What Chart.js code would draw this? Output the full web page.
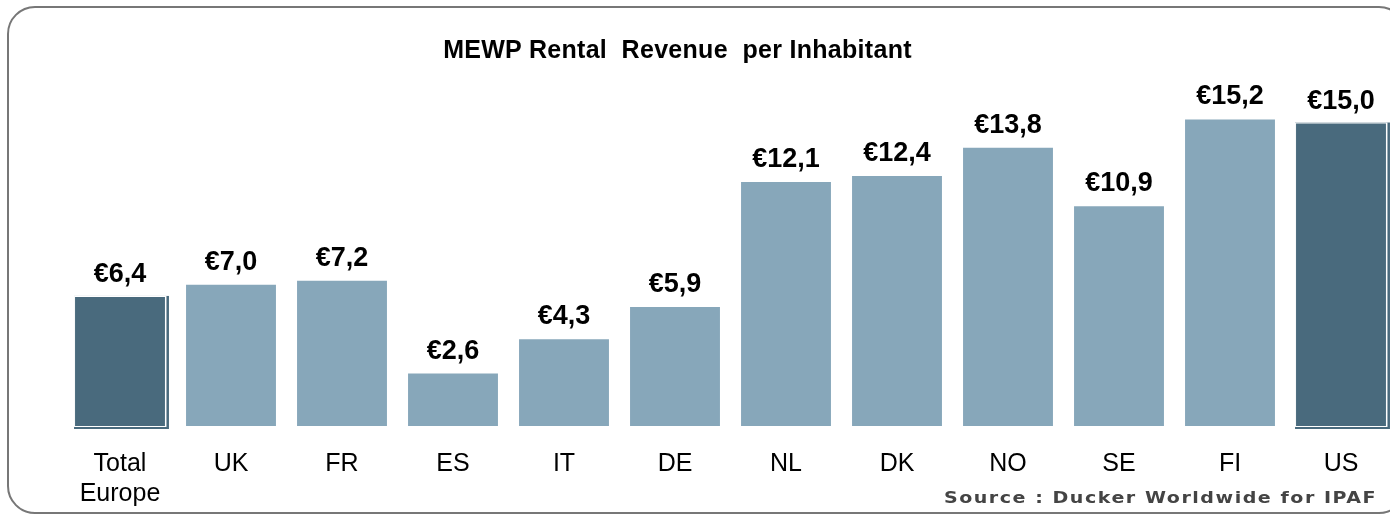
<!DOCTYPE html>
<html>
<head>
<meta charset="utf-8">
<script src="https://cdn.jsdelivr.net/npm/chart.js@4.4.1/dist/chart.umd.min.js"></script>
<style>
  html, body { margin: 0; padding: 0; width: 1390px; height: 514px; overflow: hidden; background: #fff; }
  #frame { position: absolute; left: 7px; top: 6px; width: 1400px; height: 508px; border: 2px solid #777; border-radius: 28px; box-sizing: border-box; }
  #wrap { position: absolute; left: 0; top: 3px; width: 1420px; height: 529px; }
  #title { position: absolute; left: 0; width: 1355px; top: 35px; text-align: center; font: bold 25px "Liberation Sans", Arial, sans-serif; letter-spacing: 0.3px; color: #000; white-space: pre; }
  #source { position: absolute; right: 13px; top: 489px; font: bold 15px "DejaVu Sans", "Liberation Sans", sans-serif; color: #444; letter-spacing: 1.2px; white-space: pre; transform: scaleX(1.27); transform-origin: right center; filter: blur(0.4px); }
</style>
</head>
<body>
<div id="frame"></div>
<div id="wrap"><canvas id="c" width="1420" height="529"></canvas></div>
<div id="title">MEWP Rental  Revenue  per Inhabitant</div>
<div id="source">Source : Ducker Worldwide for IPAF</div>
<script>
const categories = [["Total", "Europe"], "UK", "FR", "ES", "IT", "DE", "NL", "DK", "NO", "SE", "FI", "US"];
const values = [6.4, 7.0, 7.2, 2.6, 4.3, 5.9, 12.1, 12.4, 13.8, 10.9, 15.2, 15.0];
const highlighted = [true, false, false, false, false, false, false, false, false, false, false, true];

const LIGHT = "#87a7ba";
const DARK = "#496a7d";

const shadowPlugin = {
  id: "shadow",
  beforeDatasetsDraw(chart) {
    const ctx = chart.ctx;
    const meta = chart.getDatasetMeta(0);
    meta.data.forEach((bar, i) => {
      if (!highlighted[i]) return;
      const l = bar.x - bar.width / 2, r = bar.x + bar.width / 2;
      const t = bar.y, b = bar.base;
      ctx.save();
      ctx.fillStyle = DARK;
      ctx.fillRect(l - 1, t - 1, (r + 4) - (l - 1), (b + 3) - (t - 1));
      ctx.fillStyle = "#fff";
      ctx.fillRect(l - 1, t - 1, (r + 1.5) - (l - 1), (b + 1) - (t - 1));
      ctx.restore();
    });
  }
};

const labelPlugin = {
  id: "valueLabels",
  afterDatasetsDraw(chart) {
    const ctx = chart.ctx;
    const meta = chart.getDatasetMeta(0);
    ctx.save();
    ctx.font = 'bold 27px "Liberation Sans", Arial, sans-serif';
    ctx.fillStyle = "#000";
    ctx.textAlign = "center";
    ctx.textBaseline = "alphabetic";
    meta.data.forEach((bar, i) => {
      const txt = "€" + values[i].toFixed(1).replace(".", ",");
      ctx.fillText(txt, bar.x, bar.y - 15);
    });
    ctx.restore();
  }
};

new Chart(document.getElementById("c"), {
  type: "bar",
  data: {
    labels: categories,
    datasets: [{
      data: values,
      backgroundColor: highlighted.map(h => h ? DARK : LIGHT),
      borderWidth: 0,
      barPercentage: 0.81,
      categoryPercentage: 1.0
    }]
  },
  options: {
    responsive: false,
    animation: false,
    events: [],
    layout: { padding: { left: 64.5, right: 23.5, top: 57, bottom: 0 } },
    plugins: { legend: { display: false }, tooltip: { enabled: false }, title: { display: false } },
    scales: {
      x: {
        grid: { display: false, drawTicks: false },
        border: { display: false },
        ticks: {
          color: "#000",
          padding: 23,
          maxRotation: 0,
          autoSkip: false,
          font: { family: '"Liberation Sans", Arial, sans-serif', size: 25, lineHeight: 1.2 }
        }
      },
      y: {
        display: false,
        min: 0,
        max: 18.15
      }
    }
  },
  plugins: [shadowPlugin, labelPlugin]
});
</script>
</body>
</html>
